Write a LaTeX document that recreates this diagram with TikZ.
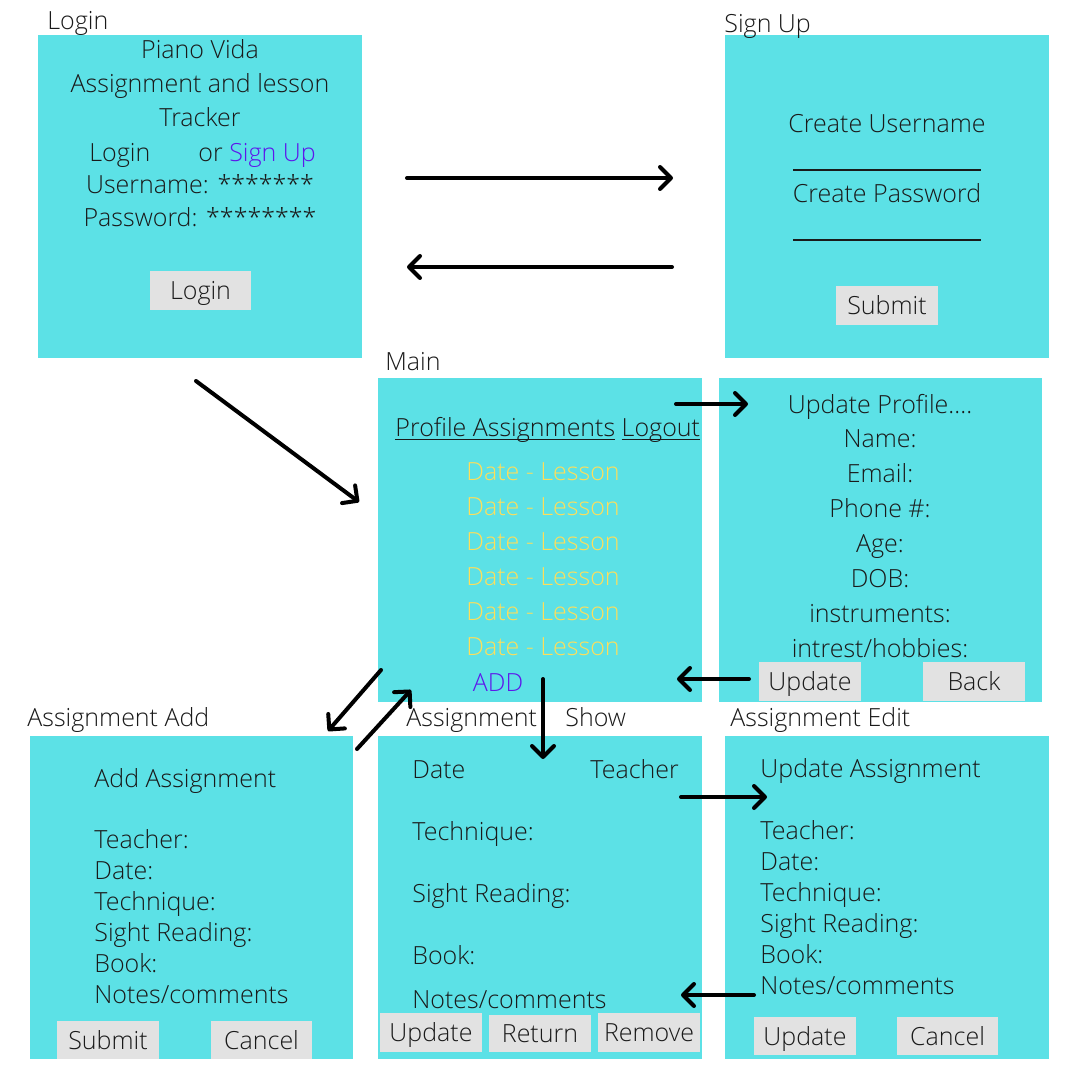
\documentclass[tikz,border=0pt]{standalone}
\usepackage{fontspec}
\setmainfont{Open Sans Light}
\usetikzlibrary{arrows.meta,fit}
\definecolor{scr}{HTML}{5CE1E6}
\definecolor{btn}{HTML}{E2E2E2}
\definecolor{lnk}{HTML}{5E17EB}
\definecolor{item}{HTML}{FFDE59}
\definecolor{ink}{HTML}{1A1A1A}
\newcommand{\ulink}[1]{\underline{\smash{#1}}}
\begin{document}
\begin{tikzpicture}[x=0.5pt,y=-0.5pt,
  font=\fontsize{12.5}{14}\selectfont, text=ink,
  screen/.style={fill=scr, inner sep=0pt, draw=none},
  button/.style={fill=btn, inner sep=0pt, draw=none},
  lbl/.style={anchor=mid, inner sep=0pt, yshift=-2pt},
  lbll/.style={anchor=mid west, inner sep=0pt, yshift=-2pt},
  flow/.style={line width=2pt, line cap=round, -{Straight Barb[length=5.5pt,width=11pt,line width=2pt,round]}}]
\path[fill=white] (0,0) rectangle (1080,1080);

% screens
\node[screen, fit={(38,35)(362,358)}] (login) {};
\node[screen, fit={(725,35)(1049,358)}] (signup) {};
\node[screen, fit={(378,378)(702,702)}] (main) {};
\node[screen, fit={(719,378)(1042,702)}] (profile) {};
\node[screen, fit={(30,736)(353,1059)}] (add) {};
\node[screen, fit={(378,736)(702,1059)}] (show) {};
\node[screen, fit={(725,736)(1049,1059)}] (edit) {};

% screen titles
\node[lbll] (tlogin) at (47,20) {Login};
\node[lbll] (tsignup) at (724,23) {Sign Up};
\node[lbll] (tmain) at (385,361) {Main};
\node[lbll] (tadd) at (27,717) {Assignment Add};
\node[lbll] (tshow) at (406,717) {Assignment};
\node[lbll] (tshow2) at (565,717) {Show};
\node[lbll] (tedit) at (730,717) {Assignment Edit};

% login screen
\node[lbl] (l1) at (200,49) {Piano Vida};
\node[lbl] (l2) at (200,83) {Assignment and lesson};
\node[lbl] (l3) at (200,117) {Tracker};
\node[lbll] (l4) at (89,152) {Login};
\node[lbll] (l4b) at (198,152) {or \textcolor{lnk}{Sign Up}};
\node[lbl] (l5) at (200,184) {Username: *******};
\node[lbl] (l6) at (200,217) {Password: ********};
\node[button, fit={(150,271)(251,310)}] (loginbtn) {};
\node[lbl] at (loginbtn.center) {Login};

% sign up screen
\node[lbl] (s1) at (887,123) {Create Username};
\node[lbl] (s2) at (887,193) {Create Password};
\draw[ink, line width=0.6pt] (793,170) -- (981,170);
\draw[ink, line width=0.6pt] (793,240) -- (981,240);
\node[button, fit={(836,286)(938,325)}] (submitbtn) {};
\node[lbl] at (submitbtn.center) {Submit};

% main screen
\node[lbll] (menu) at (395,427) {\ulink{Profile\ Assignments}\ \ulink{Logout}};
\foreach \y [count=\i] in {471,506,541,576,611,646}
  \node[lbl, text=item] (d\i) at (543,\y) {Date - Lesson};
\node[lbl, text=lnk] (addlink) at (498,682) {ADD};

% profile screen
\node[lbl] (p0) at (880,404) {Update Profile....};
\node[lbl] (p1) at (880,438) {Name:};
\node[lbl] (p2) at (880,473) {Email:};
\node[lbl] (p3) at (880,508) {Phone \#:};
\node[lbl] (p4) at (880,543) {Age:};
\node[lbl] (p5) at (880,578) {DOB:};
\node[lbl] (p6) at (880,613) {instruments:};
\node[lbl] (p7) at (880,648) {intrest/hobbies:};
\node[button, fit={(759,662)(861,701)}] (updbtn) {};
\node[lbl] at (updbtn.center) {Update};
\node[button, fit={(923,662)(1025,701)}] (backbtn) {};
\node[lbl] at (backbtn.center) {Back};

% assignment add screen
\node[lbll] (a0) at (94,778) {Add Assignment};
\node[lbll] (a1) at (94,839) {Teacher:};
\node[lbll] (a2) at (94,870) {Date:};
\node[lbll] (a3) at (94,901) {Technique:};
\node[lbll] (a4) at (94,932) {Sight Reading:};
\node[lbll] (a5) at (94,963) {Book:};
\node[lbll] (a6) at (94,994) {Notes/comments};
\node[button, fit={(57,1021)(159,1059)}] (addsub) {};
\node[lbl] at (addsub.center) {Submit};
\node[button, fit={(211,1021)(312,1059)}] (addcan) {};
\node[lbl] at (addcan.center) {Cancel};

% assignment show screen
\node[lbll] (h0) at (412,769) {Date};
\node[lbll] (h0b) at (590,769) {Teacher};
\node[lbll] (h1) at (412,831) {Technique:};
\node[lbll] (h2) at (412,893) {Sight Reading:};
\node[lbll] (h3) at (412,955) {Book:};
\node[lbll] (h4) at (412,999) {Notes/comments};
\node[button, fit={(380,1013)(482,1052)}] (shupd) {};
\node[lbl] at (shupd.center) {Update};
\node[button, fit={(489,1015)(591,1052)}] (shret) {};
\node[lbl] at (shret.center) {Return};
\node[button, fit={(598,1013)(700,1052)}] (shrem) {};
\node[lbl] at (shrem.center) {Remove};

% assignment edit screen
\node[lbll] (e0) at (760,768) {Update Assignment};
\node[lbll] (e1) at (760,830) {Teacher:};
\node[lbll] (e2) at (760,861) {Date:};
\node[lbll] (e3) at (760,892) {Technique:};
\node[lbll] (e4) at (760,923) {Sight Reading:};
\node[lbll] (e5) at (760,954) {Book:};
\node[lbll] (e6) at (760,985) {Notes/comments};
\node[button, fit={(754,1017)(856,1055)}] (edupd) {};
\node[lbl] at (edupd.center) {Update};
\node[button, fit={(897,1017)(998,1055)}] (edcan) {};
\node[lbl] at (edcan.center) {Cancel};

% connector end points
\coordinate (c1a) at (407,178);  \coordinate (c1b) at (673,178);
\coordinate (c2a) at (672,267);  \coordinate (c2b) at (407,267);
\coordinate (c3a) at (196,381);  \coordinate (c3b) at (359,502);
\coordinate (c4a) at (676,404);  \coordinate (c4b) at (748,404);
\coordinate (c5a) at (749,679);  \coordinate (c5b) at (677,679);
\coordinate (c6a) at (381,670);  \coordinate (c6b) at (328,731);
\coordinate (c7a) at (357,749);  \coordinate (c7b) at (411,690);
\coordinate (c8a) at (543,679);  \coordinate (c8b) at (543,759);
\coordinate (c9a) at (681,797);  \coordinate (c9b) at (767,797);
\coordinate (c10a) at (754,995); \coordinate (c10b) at (681,995);

\draw[flow] (c1a) -- (c1b);
\draw[flow] (c2a) -- (c2b);
\draw[flow] (c3a) -- (c3b);
\draw[flow] (c4a) -- (c4b);
\draw[flow] (c5a) -- (c5b);
\draw[flow] (c6a) -- (c6b);
\draw[flow] (c7a) -- (c7b);
\draw[flow] (c8a) -- (c8b);
\draw[flow] (c9a) -- (c9b);
\draw[flow] (c10a) -- (c10b);
\end{tikzpicture}
\end{document}
